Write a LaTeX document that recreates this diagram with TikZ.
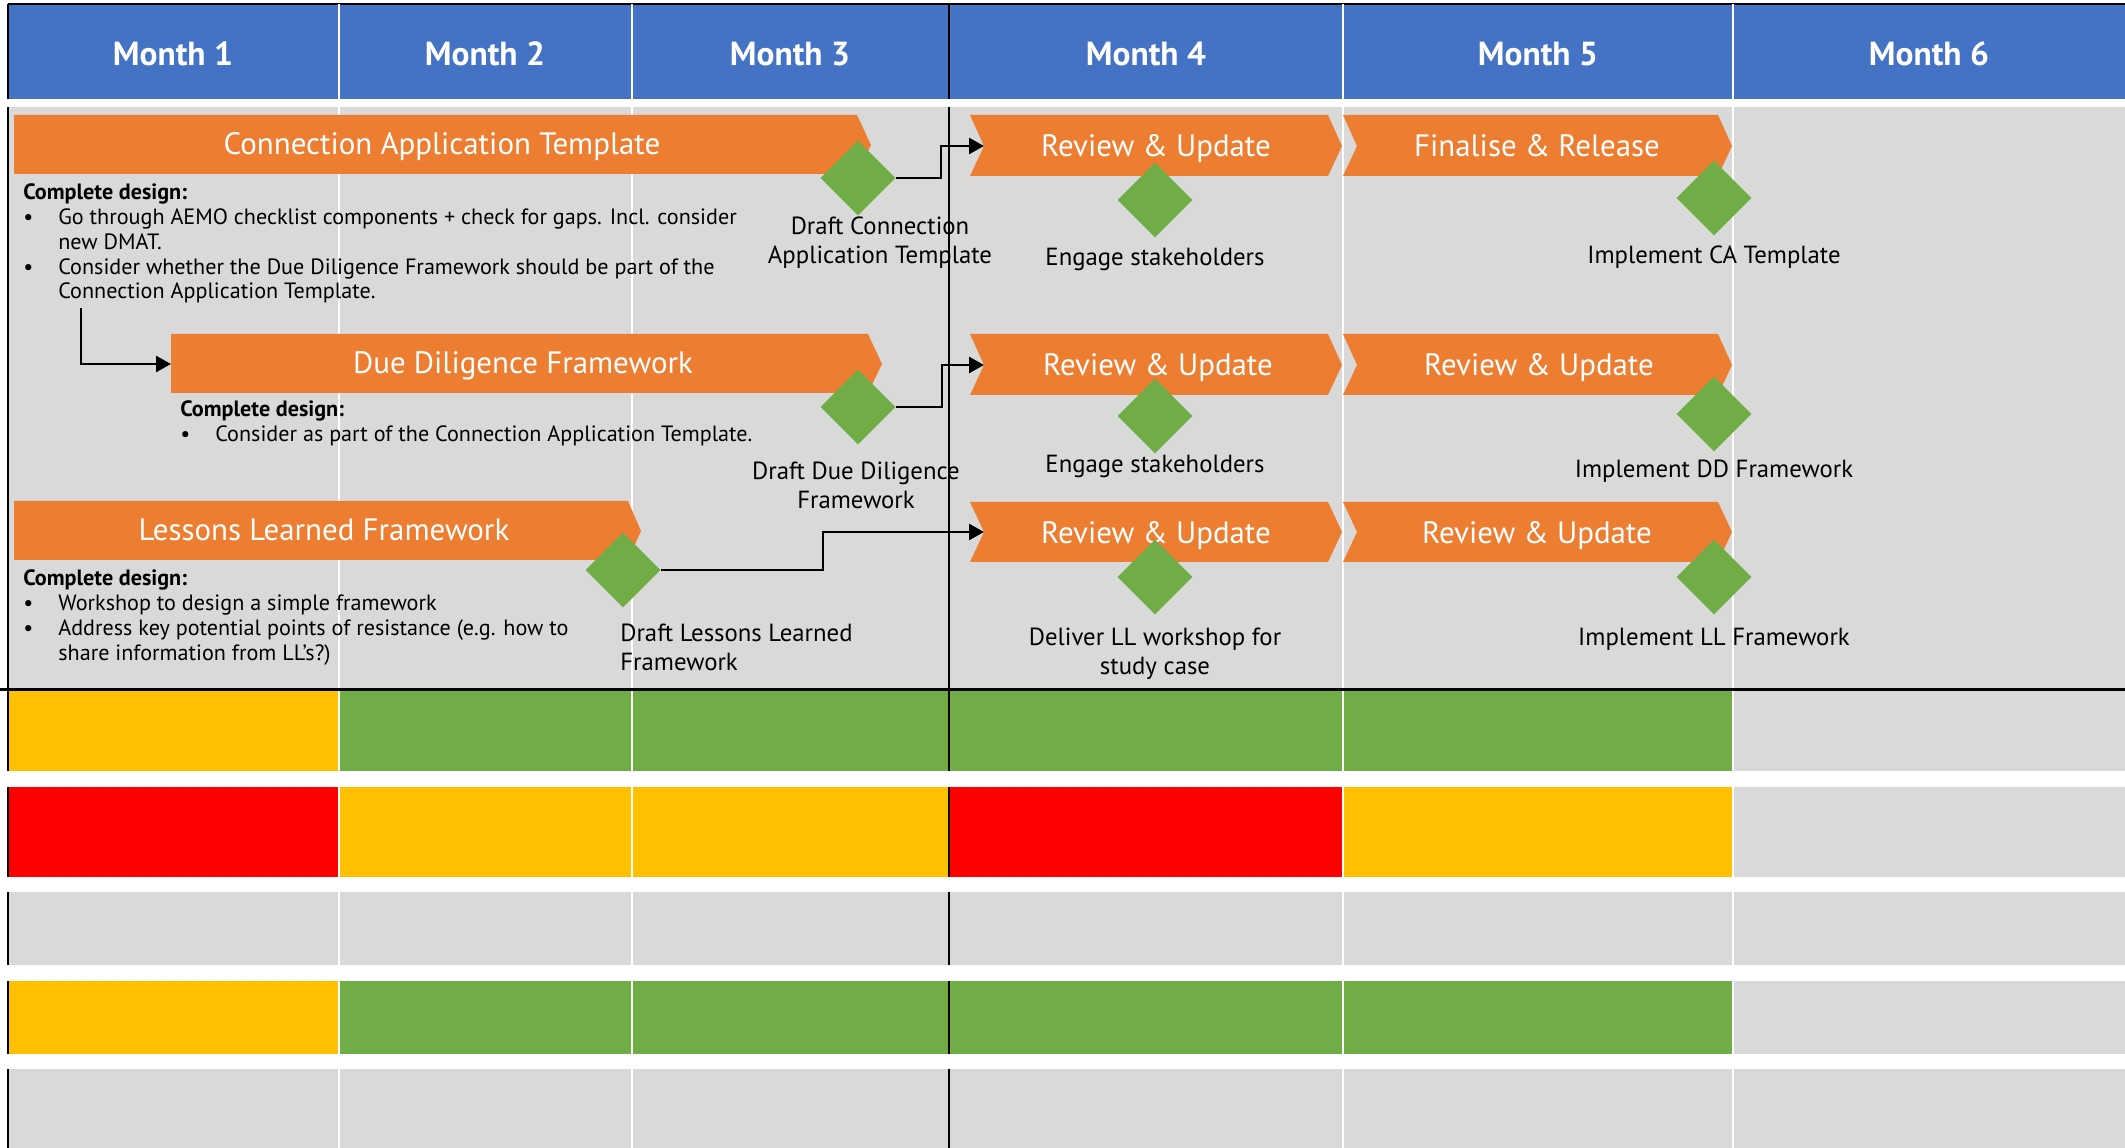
\documentclass[tikz,border=0pt]{standalone}
\usepackage{fontspec}
\setmainfont{PT Sans}
\usetikzlibrary{shapes.geometric,arrows.meta,positioning}

\definecolor{hdrblue}{HTML}{4472C4}
\definecolor{barorange}{HTML}{ED7D31}
\definecolor{msgreen}{HTML}{70AD47}
\definecolor{ragamber}{HTML}{FFC000}
\definecolor{ragred}{HTML}{FF0000}
\definecolor{cellgrey}{HTML}{D9D9D9}

\newcommand{\notebullet}{\makebox[7mm][l]{\textbullet}}
\newcommand{\noteindent}{\hspace*{7mm}}

\tikzset{
  month/.style={text=white, font=\fontsize{19}{23}\selectfont\bfseries},
  bartext/.style={text=white, font=\fontsize{17.6}{21}\selectfont, anchor=base},
  milestone/.style={diamond, fill=msgreen, minimum width=15mm, minimum height=15mm, inner sep=0pt},
  mslabel/.style={font=\fontsize{14.1}{16.5}\selectfont, align=center, inner sep=0pt},
  design/.style={font=\fontsize{12.6}{14.2}\selectfont, align=left, anchor=north west, inner sep=0pt},
  link/.style={line width=0.5mm, -{Triangle[length=3mm, width=3.2mm]}},
}

\begin{document}
\begin{tikzpicture}[x=0.2mm, y=-0.2mm]
    \useasboundingbox (0,0) rectangle (2125,1148);

    % header
    \fill[hdrblue] (8,4) rectangle (2125,99);
    \draw[line width=0.45mm] (8,4) -- (2125,4);
    \foreach \mx/\mn in {173/1, 485/2, 790/3, 1146/4, 1538/5, 1929/6}
      \node[month] (month\mn) at (\mx,54) {Month \mn};

    % timeline area and status rows
    \fill[cellgrey] (8,107) rectangle (2125,690);

    \fill[ragamber] (8,691) rectangle (339,771);
    \fill[msgreen] (339,691) rectangle (1733,771);
    \fill[cellgrey] (1733,691) rectangle (2125,771);

    \fill[ragred] (8,787) rectangle (339,877);
    \fill[ragamber] (339,787) rectangle (949,877);
    \fill[ragred] (949,787) rectangle (1343,877);
    \fill[ragamber] (1343,787) rectangle (1733,877);
    \fill[cellgrey] (1733,787) rectangle (2125,877);

    \fill[cellgrey] (8,892) rectangle (2125,965);

    \fill[ragamber] (8,981) rectangle (339,1054);
    \fill[msgreen] (339,981) rectangle (1733,1054);
    \fill[cellgrey] (1733,981) rectangle (2125,1054);

    \fill[cellgrey] (8,1069) rectangle (2125,1148);

    \foreach \yt/\yb in {4/99, 107/690, 691/771, 787/877, 892/965, 981/1054, 1069/1148} {
      \foreach \xv in {339, 632, 1343, 1733}
        \draw[white, line width=0.4mm] (\xv,\yt) -- (\xv,\yb);
      \draw[line width=0.45mm] (949,\yt) -- (949,\yb);
      \draw[line width=0.45mm] (8,\yt) -- (8,\yb);
    }
    \draw[line width=0.6mm] (0,690) -- (2125,690);

    % design bars
    \fill[barorange] (14,115) -- (857,115) -- (871,145) -- (857,174) -- (14,174) -- cycle;
    \node[bartext] (cat) at (442,155) {Connection Application Template};
    \fill[barorange] (171,334) -- (868,334) -- (882,364) -- (868,393) -- (171,393) -- cycle;
    \node[bartext] (ddf) at (523,374) {Due Diligence Framework};
    \fill[barorange] (14,501) -- (628,501) -- (641,531) -- (628,560) -- (14,560) -- cycle;
    \node[bartext] (llf) at (324,541) {Lessons Learned Framework};

    % chevrons for months 4 and 5
    \foreach \yt/\ym/\yb/\row in {115/146/176/1, 334/365/395/2, 502/532/562/3} {
      \fill[barorange] (970,\yt) -- (1328,\yt) -- (1342,\ym) -- (1328,\yb) -- (970,\yb) -- (984,\ym) -- cycle;
      \fill[barorange] (1343,\yt) -- (1718,\yt) -- (1732,\ym) -- (1718,\yb) -- (1343,\yb) -- (1357,\ym) -- cycle;
      \coordinate (in\row) at (984,\ym);
    }
    \node[bartext] (rev1) at (1156,157) {Review \& Update};
    \node[bartext] (fin1) at (1537,157) {Finalise \& Release};
    \node[bartext] (rev2) at (1158,376) {Review \& Update};
    \node[bartext] (upd2) at (1539,376) {Review \& Update};
    \node[bartext] (rev3) at (1156,544) {Review \& Update};
    \node[bartext] (upd3) at (1537,544) {Review \& Update};

    % notes
    \node[design] (canote) at (23,183) {\textbf{Complete design:}\\
      \notebullet Go through AEMO checklist components + check for gaps. Incl. consider\\
      \noteindent new DMAT.\\
      \notebullet Consider whether the Due Diligence Framework should be part of the\\
      \noteindent Connection Application Template.};
    \node[design] (ddnote) at (180,400) {\textbf{Complete design:}\\
      \notebullet Consider as part of the Connection Application Template.};
    \node[design] (llnote) at (23,569) {\textbf{Complete design:}\\
      \notebullet Workshop to design a simple framework\\
      \notebullet Address key potential points of resistance (e.g. how to\\
      \noteindent share information from LL’s?)};

    % milestones
    \node[milestone] (dca) at (858,178) {};
    \node[milestone] (engca) at (1155,200) {};
    \node[milestone] (impca) at (1714,198) {};
    \node[milestone] (ddd) at (858,407) {};
    \node[milestone] (engdd) at (1155,416) {};
    \node[milestone] (impdd) at (1714,414) {};
    \node[milestone] (dll) at (623,570) {};
    \node[milestone] (delll) at (1155,577) {};
    \node[milestone] (impll) at (1714,577) {};

    \node[mslabel] (ldca) at (880,243) {Draft Connection\\Application Template};
    \node[mslabel] (lengca) at (1155,259) {Engage stakeholders};
    \node[mslabel] (limpca) at (1714,257) {Implement CA Template};
    \node[mslabel] (lddd) at (856,485) {Draft Due Diligence\\Framework};
    \node[mslabel] (lengdd) at (1155,466) {Engage stakeholders};
    \node[mslabel] (limpdd) at (1714,471) {Implement DD Framework};
    \node[mslabel, align=left, anchor=west] (ldll) at (620,647) {Draft Lessons Learned\\Framework};
    \node[mslabel] (ldelll) at (1155,654) {Deliver LL workshop for\\study case};
    \node[mslabel] (limpll) at (1714,639) {Implement LL Framework};

    % links
    \coordinate (cafork) at (81,308);
    \coordinate (ddfin) at (171,364);
    \draw[link] (cafork) |- (ddfin);
    \draw[link] (dca.east) -- ++(45,0) |- (in1);
    \draw[link] (ddd.east) -- ++(46,0) |- (in2);
    \draw[link] (dll.east) -- ++(162,0) |- (in3);
  \end{tikzpicture}
\end{document}
